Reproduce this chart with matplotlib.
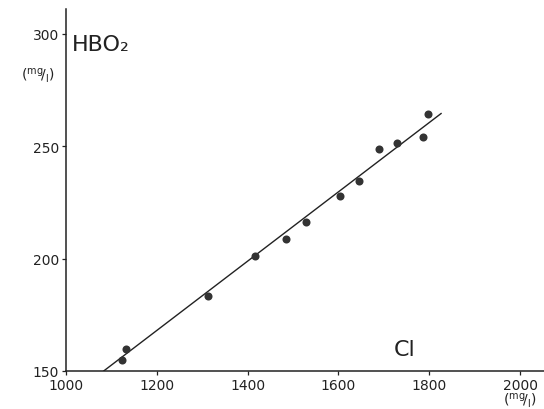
import numpy as np
from matplotlib import pyplot

# Cl vs HBO2 concentrations (mg/l)
cl = [1124, 1133, 1313, 1416, 1485, 1529, 1603, 1646, 1689, 1728, 1786, 1797]
hbo2 = [154.9, 159.9, 183.5, 201.3, 208.5, 216.4, 227.9, 234.6, 248.8, 251.3, 254.0, 264.4]

# regression line end points
fit_cl = [1083, 1826]
fit_hbo2 = [150.0, 264.5]

x_ticks = [1000, 1200, 1400, 1600, 1800, 2000]
y_ticks = [150, 200, 250, 300]

unit = r'($^{\mathrm{mg}}\!/_{\mathrm{l}}$)'


def main():
    figure = pyplot.figure(figsize=(5.44, 4.10), dpi=100)
    axes = figure.add_axes([0.1213, 0.0927, 0.879, 0.883])

    axes.plot(fit_cl, fit_hbo2, color='#222222', linewidth=1.0)
    axes.plot(cl, hbo2, 'o', color='#333333', markersize=5.8, markeredgewidth=0)

    axes.set_xlim(1000, 2053)
    axes.set_ylim(150, 311)
    axes.set_xticks(x_ticks)
    axes.set_yticks(y_ticks)

    for side in ('top', 'right'):
        axes.spines[side].set_visible(False)
    for side in ('left', 'bottom'):
        axes.spines[side].set_linewidth(1.1)
        axes.spines[side].set_color('#222222')

    axes.tick_params(direction='out', length=3, width=0.9, colors='#222222',
                     labelsize=10, pad=2)

    axes.text(0.012, 0.903, 'HBO₂', transform=axes.transAxes, fontsize=16,
              color='#222222', va='center', ha='left')
    axes.text(0.685, 0.062, 'Cl', transform=axes.transAxes, fontsize=16,
              color='#222222', va='center', ha='left')

    figure.text(38 / 544, 1 - 76 / 410, unit, fontsize=10, ha='center', va='center',
                color='#222222')
    figure.text(520 / 544, 1 - 401 / 410, unit, fontsize=10, ha='center', va='center',
                color='#222222')

    figure.savefig('out.png', dpi=100)


main()
